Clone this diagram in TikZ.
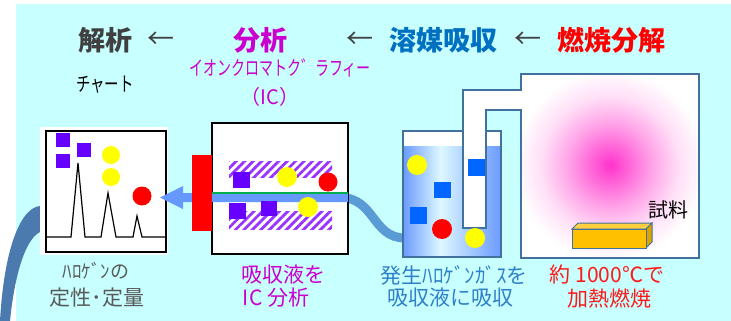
\documentclass[tikz,border=0pt]{standalone}
\usepackage{fontspec}
\newfontfamily\jp{Noto Sans CJK JP}
\usetikzlibrary{patterns.meta}

\definecolor{bgcyan}{HTML}{C8FFFF}
\definecolor{darkgray}{HTML}{404040}
\definecolor{labelgray}{HTML}{595959}
\definecolor{magentatext}{HTML}{CC00CC}
\definecolor{bluetitle}{HTML}{0070C0}
\definecolor{bluetext}{HTML}{2F80C8}
\definecolor{redtext}{HTML}{FF1A1A}
\definecolor{framecol}{HTML}{41719C}
\definecolor{curveblue}{HTML}{4A7AAE}
\definecolor{arrowblue}{HTML}{6699FF}
\definecolor{tubeblue}{HTML}{5B9BD5}
\definecolor{greenline}{HTML}{00B050}
\definecolor{violet}{HTML}{6600FF}
\definecolor{hatchcol}{HTML}{9933FF}
\definecolor{ionblue}{HTML}{0066FF}
\definecolor{ionyellow}{HTML}{FFFF00}
\definecolor{ionred}{HTML}{FF0000}
\definecolor{liq}{HTML}{6A9AFF}
\definecolor{liqlight}{HTML}{DDF8FF}
\definecolor{glowpink}{HTML}{FF33CC}
\definecolor{samplefront}{HTML}{FFC000}
\definecolor{sampletop}{HTML}{FFD040}
\definecolor{sampleside}{HTML}{D9A300}

\pgfdeclarehorizontalshading{liquid}{100bp}{color(0bp)=(liq); color(25bp)=(liq);
  color(44bp)=(liqlight); color(75bp)=(liq); color(100bp)=(liq)}
\pgfdeclareradialshading{glow}{\pgfpoint{0bp}{0bp}}{color(0bp)=(glowpink);
  color(4bp)=(glowpink!80!white); color(11bp)=(glowpink!45!white);
  color(18bp)=(glowpink!16!white); color(25bp)=(white); color(50bp)=(white)}

\begin{document}
\begin{tikzpicture}[x=1pt,y=-1pt]
  \tikzstyle{title}=[inner sep=0pt,font=\jp\bfseries\fontsize{27}{30}\selectfont]
  \tikzstyle{larrow}=[inner sep=0pt,text=darkgray,font=\jp\fontsize{27}{30}\selectfont]
  \tikzstyle{label}=[inner sep=0pt,font=\jp\fontsize{21}{24}\selectfont]
  \tikzstyle{small}=[inner sep=0pt,font=\jp\fontsize{20}{22}\selectfont]
  \tikzstyle{frame}=[draw=framecol,line width=2.5pt]
  \tikzstyle{hatch}=[pattern={Lines[angle=45,distance=6pt,line width=2.8pt]},pattern color=hatchcol]

  \useasboundingbox (0,0) rectangle (731,321);
  \fill[bgcyan] (16,4) rectangle (731,321);
  \fill[curveblue] (40,206) .. controls (20,208) and (4,250) .. (0,321) -- (10,321)
    .. controls (14,280) and (24,240) .. (40,232) -- cycle;

  % step titles
  \node [title,text=darkgray]    (kaiseki) at (105,40) {解析};
  \node [larrow]                 (ar1)     at (161,40) {←};
  \node [title,text=magentatext] (bunseki) at (260,40) {分析};
  \node [larrow]                 (ar2)     at (360,40) {←};
  \node [title,text=bluetitle]   (kyushu)  at (443,40) {溶媒吸収};
  \node [larrow]                 (ar3)     at (528,40) {←};
  \node [title,text=ionred]      (nensho)  at (611,40) {燃焼分解};
  \node [small,xscale=0.72]      (chart)   at (105,85) {チャート};
  \node [small,text=magentatext,xscale=0.7] (ionchrom) at (280,68) {イオンクロマトク゛ラフィー};
  \node [small,text=magentatext] (ic) at (270,97) {（IC）};

  % chromatogram
  \fill[white] (40,127) rectangle (168,255);
  \draw[line width=1.5pt] (46,131) rectangle (166,252);
  \draw[line width=1.2pt] (46,237) -- (71,237) -- (78,163) -- (85,237) -- (101,237) -- (108,193)
    -- (116,237) -- (133,237) -- (137,216) -- (142,237) -- (166,237);
  \fill[violet] (56,133) rectangle (70,147);
  \fill[violet] (77,143) rectangle (91,157);
  \fill[violet] (56,154) rectangle (70,168);
  \fill[ionyellow] (111,155) circle [radius=9pt];
  \fill[ionyellow] (111,177) circle [radius=9pt];
  \fill[ionred] (142,196) circle [radius=9.5pt];

  % tube from beaker
  \draw[tubeblue,line width=9pt] (340,197.5) .. controls (375,197.5) and (372,238) .. (405,238);

  % column
  \draw[fill=white,line width=2pt] (212,123) rectangle (348,254);
  \fill[hatch] (229,161) rectangle (332,177);
  \fill[hatch] (229,211) rectangle (332,229);
  \fill[arrowblue] (348,193) -- (183,193) -- (183,186) -- (160,197.5) -- (183,209)
    -- (183,202) -- (348,202) -- cycle;
  \draw[greenline,line width=2pt] (212,193) -- (348,193);
  \fill[violet] (233,172) rectangle (250,188);
  \fill[violet] (229,203) rectangle (246,219);
  \fill[violet] (261,201) rectangle (277,216);
  \fill[ionyellow] (287,177) circle [radius=10pt];
  \fill[ionred] (328,182) circle [radius=9.5pt];
  \fill[ionyellow] (308,207) circle [radius=10pt];
  \fill[ionred] (192,155) rectangle (212,231);

  % beaker
  \fill[white] (403,131) rectangle (501,257);
  \shade[shading=liquid] (403,146) rectangle (501,257);
  \draw[frame] (403,131) rectangle (501,257);
  \fill[ionyellow] (417,165) circle [radius=10pt];
  \fill[ionblue] (434,182) rectangle (451,198);
  \fill[ionblue] (410,207) rectangle (427,224);
  \fill[ionred] (442,229) circle [radius=10pt];

  % furnace
  \fill[white] (521,74) rectangle (699,258);
  \begin{scope}
    \clip (521,74) rectangle (699,258);
    \shade[shading=glow] (610,165) circle [radius=95pt];
  \end{scope}
  \draw[frame] (521,92) -- (521,74) -- (699,74) -- (699,258) -- (521,258) -- (521,108);
  \fill[white] (463,90) -- (523,90) -- (523,110) -- (486,110) -- (486,228) -- (463,228) -- cycle;
  \draw[frame] (522,90) -- (463,90) -- (463,228) -- (486,228) -- (486,110) -- (522,110);
  \fill[ionblue] (468,159) rectangle (485,176);
  \fill[ionyellow] (475,238) circle [radius=10pt];

  % sample boat
  \draw[draw=framecol,line width=1pt,fill=sampletop] (572,229) -- (578,223) -- (652,223) -- (646,229) -- cycle;
  \draw[draw=framecol,line width=1pt,fill=sampleside] (646,229) -- (652,223) -- (652,242) -- (646,248) -- cycle;
  \draw[draw=framecol,line width=1pt,fill=samplefront] (572,229) rectangle (646,248);
  \node [inner sep=0pt,font=\jp\fontsize{20}{22}\selectfont] (sample) at (668,210) {試料};

  % captions
  \node [label,text=labelgray,font=\jp\fontsize{19}{22}\selectfont] (halogen) at (96,271) {ﾊﾛｹﾞﾝの};
  \node [label,text=labelgray]   (teiryo)  at (97,298)  {定性･定量};
  \node [label,text=magentatext] (capa)    at (283,275) {吸収液を};
  \node [label,text=magentatext] (capb)    at (276,298) {IC 分析};
  \node [label,text=bluetext]    (capc)    at (454,275) {発生ﾊﾛｹﾞﾝｶﾞｽを};
  \node [label,text=bluetext]    (capd)    at (450,298) {吸収液に吸収};
  \node [label,text=redtext]     (cape)    at (607,275) {約 1000℃で};
  \node [label,text=redtext]     (capf)    at (609,298) {加熱燃焼};
\end{tikzpicture}
\end{document}
